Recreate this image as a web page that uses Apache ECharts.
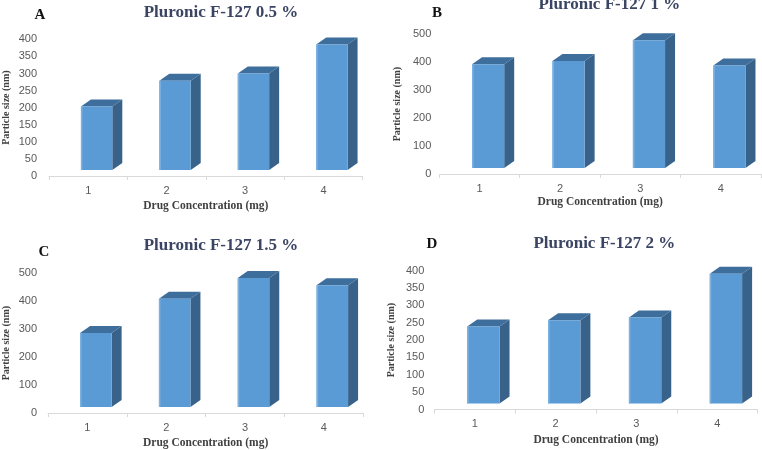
<!DOCTYPE html>
<html>
<head>
<meta charset="utf-8">
<script src="https://cdn.jsdelivr.net/npm/echarts@6/dist/echarts.min.js"></script>
<style>html,body{margin:0;padding:0;background:#fff}#c{width:762px;height:450px}</style>
</head>
<body>
<div id="c"></div>
<script>
// ---- data ----
const categories = ['1', '2', '3', '4'];
const valuesA = [203, 279, 300, 385];
const valuesB = [393, 404, 479, 388];
const valuesC = [286, 409, 483, 457];
const valuesD = [239, 257, 265, 391];
const titles = ['Pluronic F-127 0.5 %', 'Pluronic F-127 1 %', 'Pluronic F-127 1.5 %', 'Pluronic F-127 2 %'];
const letters = ['A', 'B', 'C', 'D'];
const yMax = [400, 500, 500, 400];
const yInterval = [50, 100, 100, 50];
const xName = 'Drug Concentration (mg)';
const yName = 'Particle size (nm)';

const seriesValues = [valuesA, valuesB, valuesC, valuesD];

// ---- layout ----
const grids = [
  {left: 45, top: 39.3, width: 317.7, height: 136.7},
  {left: 439.3, top: 34.3, width: 321.7, height: 139.7},
  {left: 43.3, top: 273.3, width: 320, height: 140.7},
  {left: 434.3, top: 270.7, width: 323.4, height: 138.8}
];
const yLabelMargin = [12, 8, 11, 10];
const yNameGap = [38, 36.6, 37, 38];
const xNameGap = [24, 22, 24, 25];
const titlePos = [[221, 12.7], [609.3, 5], [221, 245.7], [604.3, 243.3]];
const letterPos = [[40, 15], [437, 12.7], [44, 251.7], [432, 244]];

const serif = '"Liberation Serif", "DejaVu Serif", serif';
const sans = '"Liberation Sans", Arial, sans-serif';

function renderBar(params, api) {
  const i = api.value(0);
  const v = api.value(1);
  const top = api.coord([i, v]);
  const base = api.coord([i, 0]);
  const band = api.size([1, 0])[0];
  const fl = top[0] - band * 0.093;
  const fw = band * 0.40;
  const fr = fl + fw;
  const dx = 10, dy = 7;
  const by = base[1] - 6;
  const ty = top[1];
  return {
    type: 'group',
    children: [
      {type: 'polygon', shape: {points: [[fr, ty], [fr + dx, ty - dy], [fr + dx, by - dy], [fr, by]]},
        style: {fill: '#386289'}},
      {type: 'polygon', shape: {points: [[fl, ty], [fr, ty], [fr + dx, ty - dy], [fl + dx, ty - dy]]},
        style: {fill: '#3e6e9c'}},
      {type: 'rect', shape: {x: fl, y: ty, width: fw, height: by - ty},
        style: {fill: '#5b9bd5'}},
      {type: 'rect', shape: {x: fl, y: ty, width: 1.5, height: by - ty},
        style: {fill: '#7eb1e0'}}
    ]
  };
}

const option = {
  backgroundColor: '#ffffff',
  animation: false,
  grid: grids,
  xAxis: grids.map((g, k) => ({
    type: 'category', gridIndex: k, data: categories,
    boundaryGap: true,
    axisLine: {lineStyle: {color: '#d9d9d9', width: 1}},
    axisTick: {show: true, length: 4, lineStyle: {color: '#d9d9d9'}},
    axisLabel: {color: '#595959', fontFamily: sans, fontSize: 11, margin: 9},
    name: xName, nameLocation: 'middle', nameGap: xNameGap[k],
    nameTextStyle: {fontFamily: serif, fontWeight: 'bold', fontSize: 11.5, color: '#404040'}
  })),
  yAxis: grids.map((g, k) => ({
    type: 'value', gridIndex: k, min: 0, max: yMax[k], interval: yInterval[k],
    axisLine: {show: false}, axisTick: {show: false}, splitLine: {show: false},
    axisLabel: {color: '#595959', fontFamily: sans, fontSize: 11, margin: yLabelMargin[k]},
    name: yName, nameLocation: 'middle', nameGap: yNameGap[k],
    nameTextStyle: {fontFamily: serif, fontWeight: 'bold', fontSize: 10, color: '#404040'}
  })),
  series: seriesValues.map((vals, k) => ({
    type: 'custom', xAxisIndex: k, yAxisIndex: k,
    renderItem: renderBar,
    data: vals.map((v, i) => [i, v])
  })),
  graphic: [
    ...titles.map((t, k) => ({
      type: 'text', x: titlePos[k][0], y: titlePos[k][1],
      style: {text: t, font: 'bold 17px ' + serif, fill: '#3b4563', align: 'center', verticalAlign: 'middle'}
    })),
    ...letters.map((t, k) => ({
      type: 'text', x: letterPos[k][0], y: letterPos[k][1],
      style: {text: t, font: 'bold 15px ' + serif, fill: '#111111', align: 'center', verticalAlign: 'middle'}
    }))
  ]
};

const chart = echarts.init(document.getElementById('c'), null, {renderer: 'canvas'});
chart.setOption(option);
</script>
</body>
</html>
